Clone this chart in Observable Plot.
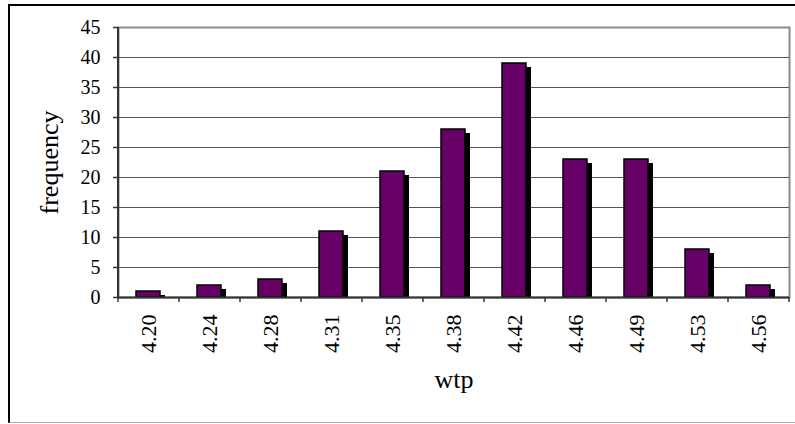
<!DOCTYPE html>
<html>
<head>
<meta charset="utf-8">
<script src="https://cdn.jsdelivr.net/npm/d3@7"></script>
<script src="https://cdn.jsdelivr.net/npm/@observablehq/plot@0.6"></script>
<style>
  html, body { margin: 0; padding: 0; background: #fff; }
  #wrap { position: relative; width: 795px; height: 424px; overflow: hidden; }
  #outer { position: absolute; left: 8px; top: 4px; width: 800px; height: 419px;
           border-top: 2px solid #000; border-left: 2px solid #000; border-bottom: 1px solid #aaa;
           box-sizing: border-box; pointer-events: none; }
  svg { position: absolute; left: 0; top: 0; }
</style>
</head>
<body>
<div id="wrap"><div id="outer"></div></div>
<script>
const categories = ["4.20","4.24","4.28","4.31","4.35","4.38","4.42","4.46","4.49","4.53","4.56"];
const frequencies = [1, 2, 3, 11, 21, 28, 39, 23, 23, 8, 2];
const yTicks = [0, 5, 10, 15, 20, 25, 30, 35, 40, 45];
const gridTicks = [5, 10, 15, 20, 25, 30, 35, 40];

const data = categories.map((c, i) => ({wtp: c, frequency: frequencies[i]}));
const half = 30.5; // half a category step in px

const chart = Plot.plot({
  width: 795,
  height: 424,
  marginLeft: 118,
  marginRight: 6,
  marginTop: 27,
  marginBottom: 127,
  style: {fontFamily: "'Liberation Serif', 'Times New Roman', serif", background: "transparent"},
  x: {domain: categories, paddingInner: 0.6, paddingOuter: 0.3, label: null},
  y: {domain: [0, 45], label: null},
  marks: [
    Plot.frame({stroke: "#8a8a8a", strokeWidth: 2}),
    Plot.ruleY(gridTicks, {stroke: "#555", strokeWidth: 1}),
    Plot.barY(data, {x: "wtp", y: "frequency", fill: "#000", dx: 5, insetTop: 4}),
    Plot.barY(data, {x: "wtp", y: "frequency", fill: "#660066", stroke: "#000", strokeWidth: 1.5}),
    Plot.ruleY([0], {stroke: "#333", strokeWidth: 2}),
    Plot.ruleX([categories[0]], {dx: -half, stroke: "#333", strokeWidth: 2}),
    Plot.axisY({ticks: yTicks, tickSize: 5, tickPadding: 13, fontSize: 20, stroke: "#333", strokeWidth: 1.5, color: "#000", label: "frequency", labelAnchor: "center", labelOffset: 79, labelArrow: false}),
    Plot.axisX({ticks: categories, tickSize: 0, tickPadding: 17, tickRotate: -90, fontSize: 22, color: "#000", label: "wtp", labelAnchor: "center", labelOffset: 90, labelArrow: false}),
    Plot.axisX({ticks: categories, tickSize: 5, tickFormat: () => "", dx: -half, stroke: "#333", strokeWidth: 1.5, label: null}),
    Plot.axisX({ticks: [categories[categories.length - 1]], tickSize: 5, tickFormat: () => "", dx: half, stroke: "#333", strokeWidth: 1.5, label: null})
  ]
});
document.getElementById("wrap").insertBefore(chart, document.getElementById("outer"));
chart.querySelectorAll("[aria-label='y-axis label'] text, [aria-label='x-axis label'] text").forEach(t => t.style.fontSize = "26px");
</script>
</body>
</html>
